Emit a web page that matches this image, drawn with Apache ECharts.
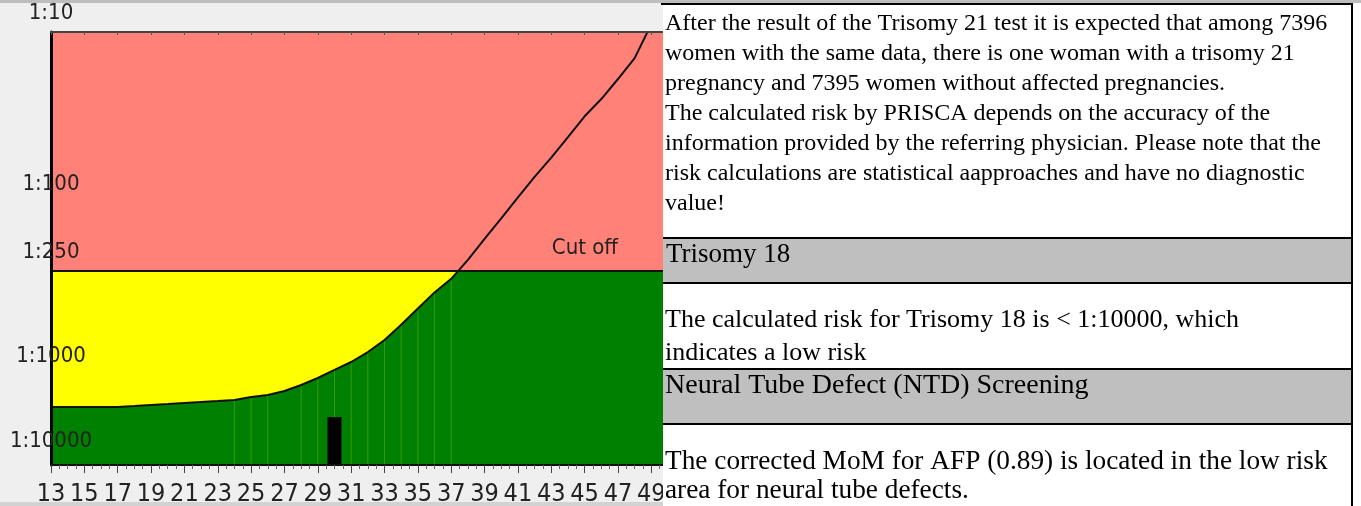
<!DOCTYPE html>
<html>
<head>
<meta charset="utf-8">
<script src="https://cdn.jsdelivr.net/npm/echarts@6/dist/echarts.min.js"></script>
<style>
  html, body { margin: 0; padding: 0; background: #efefef; }
  #riskChart { width: 1361px; height: 506px; }
</style>
</head>
<body>
<div id="riskChart"></div>
<script>
  const ages = [13, 14, 15, 16, 17, 18, 19, 20, 21, 22, 23, 24, 25, 26, 27, 28, 29, 30, 31,
    32, 33, 34, 35, 36, 37, 38, 39, 40, 41, 42, 43, 44, 45, 46, 47, 48, 49];
  const riskDenominators = [2360, 2360, 2360, 2360, 2360, 2300, 2240, 2180, 2120, 2065, 2010,
    1955, 1805, 1710, 1540, 1310, 1085, 935, 840, 735, 625, 510, 410, 330, 275, 213, 161, 122,
    92, 70, 54, 41, 31, 24.6, 18.8, 14.2, 9];
  const yTicks = [10, 100, 250, 1000, 10000];
  const xTickStart = 13;
  const xTickEnd = 50;
  const cutoffRisk = 250;
  const patientAge = [30];
  const patientMarker = [3100];
  // faint light stripes seen under the curve
  const stripeAges = [24, 25, 26, 28, 29, 30, 31, 32, 33, 34, 35, 36, 37];

  // log scale up to 1:1000, then squeezed to half a decade per decade
  const POS_MAX = 3.525;
  function pos(r) {
    const l = Math.log10(r);
    return l <= 3 ? l : 3 + (l - 3) / 2;
  }
  function h(r) {
    return POS_MAX - pos(r);
  }
  function riskAt(age) {
    return riskDenominators[ages.indexOf(age)];
  }
  // first age whose risk is already above the cut off; yellow band stops there
  const yellowEnd = ages.find((a, i) => riskDenominators[i] < cutoffRisk);

  const narrow = "'Liberation Sans Narrow', 'DejaVu Sans Condensed', 'Liberation Sans', sans-serif";
  const serif = "'Liberation Serif', 'DejaVu Serif', serif";

  const myChart = echarts.init(document.getElementById('riskChart'));
  myChart.setOption({
    animation: false,
    backgroundColor: '#efefef',
    grid: {
      show: true,
      left: 51,
      top: 32,
      right: 693,
      bottom: 41,
      containLabel: false,
      outerBoundsMode: 'none',
      borderWidth: 0,
      backgroundColor: '#008000',
    },
    xAxis: [
      {
        type: 'value',
        min: xTickStart,
        max: xTickEnd,
        interval: 2,
        z: 10,
        axisLine: { lineStyle: { color: '#111', width: 2 } },
        axisTick: { length: 8, lineStyle: { color: '#444', width: 1 } },
        minorTick: { show: true, splitNumber: 4, length: 4, lineStyle: { color: '#666' } },
        splitLine: { show: false },
        axisLabel: {
          showMaxLabel: false,
          margin: 17,
          fontFamily: narrow,
          fontSize: 25,
          color: '#222',
        },
      },
      {
        //top border, also hosts the patient marker
        type: 'value',
        position: 'top',
        min: xTickStart,
        max: xTickEnd,
        interval: 2,
        z: 10,
        axisLine: { lineStyle: { color: '#444', width: 2 } },
        axisTick: { inside: true, length: 3, lineStyle: { color: '#555' } },
        splitLine: { show: false },
        axisLabel: { show: false },
      },
    ],
    yAxis: {
      type: 'value',
      min: 0,
      max: POS_MAX - 1,
      z: 10,
      splitLine: { show: false },
      axisTick: { show: false },
      axisLine: { show: true, lineStyle: { color: '#000', width: 3 } },
      axisLabel: {
        customValues: yTicks.map(h),
        formatter(value) {
          const t = yTicks.find((d) => Math.abs(h(d) - value) < 1e-6);
          return t ? '1:' + t : '';
        },
        align: 'center',
        verticalAlign: 'bottom',
        lineHeight: 38,
        margin: 0,
        fontFamily: narrow,
        fontSize: 22,
        color: '#222',
      },
    },
    series: [
      {
        //yellow below cut off, only where the curve is still under it
        type: 'line',
        z: 1,
        silent: true,
        symbol: 'none',
        lineStyle: { width: 0 },
        areaStyle: { color: '#ffff00', opacity: 1, origin: 'start' },
        data: [[ages[0], h(cutoffRisk)], [yellowEnd, h(cutoffRisk)]],
      },
      {
        //green under the risk curve
        type: 'line',
        z: 2,
        silent: true,
        symbol: 'none',
        lineStyle: { width: 0 },
        areaStyle: { color: '#008000', opacity: 1, origin: 'start' },
        data: ages.map((a, i) => [a, h(riskDenominators[i])]),
      },
      {
        type: 'bar',
        z: 3,
        silent: true,
        barWidth: 1,
        itemStyle: { color: 'rgba(150,210,0,0.35)' },
        data: stripeAges.map((a) => [a, h(riskAt(a))]),
      },
      {
        //pink above cut off
        type: 'line',
        z: 4,
        silent: true,
        symbol: 'none',
        lineStyle: { width: 0 },
        areaStyle: { color: '#ff8178', opacity: 1, origin: 'end' },
        data: [[xTickStart, h(cutoffRisk)], [xTickEnd, h(cutoffRisk)]],
      },
      {
        type: 'bar',
        xAxisIndex: 1,
        z: 5,
        silent: true,
        barWidth: 14,
        itemStyle: { color: '#000' },
        data: patientAge.map((a, i) => [a, h(patientMarker[i])]),
      },
      {
        type: 'line',
        z: 6,
        silent: true,
        symbol: 'none',
        lineStyle: { color: '#111', width: 2 },
        data: ages.map((a, i) => [a, h(riskDenominators[i])]),
        markLine: {
          silent: true,
          symbol: 'none',
          lineStyle: { color: '#111', width: 2, type: 'solid' },
          label: {
            formatter: 'Cut off',
            position: 'insideEndTop',
            distance: 12,
            padding: [0, 38, 0, 0],
            fontFamily: narrow,
            fontSize: 22,
            color: '#222',
          },
          data: [{ yAxis: h(cutoffRisk) }],
        },
      },
    ],
    graphic: [
      { type: 'rect', z: 100, shape: { x: 663, y: 0, width: 698, height: 506 }, style: { fill: '#fff' } },
      { type: 'rect', z: 101, shape: { x: 0, y: 0, width: 1361, height: 3 }, style: { fill: '#bdbdbd' } },
      { type: 'rect', z: 101, shape: { x: 0, y: 502, width: 663, height: 4 }, style: { fill: '#d2d2d2' } },
      { type: 'rect', z: 101, shape: { x: 663, y: 239, width: 689, height: 43 }, style: { fill: '#bfbfbf' } },
      { type: 'rect', z: 101, shape: { x: 663, y: 370, width: 689, height: 53 }, style: { fill: '#bfbfbf' } },
      { type: 'rect', z: 102, shape: { x: 661, y: 3, width: 692, height: 2 }, style: { fill: '#000' } },
      { type: 'rect', z: 102, shape: { x: 663, y: 237, width: 690, height: 2 }, style: { fill: '#000' } },
      { type: 'rect', z: 102, shape: { x: 663, y: 282, width: 690, height: 2 }, style: { fill: '#000' } },
      { type: 'rect', z: 102, shape: { x: 663, y: 368, width: 690, height: 2 }, style: { fill: '#000' } },
      { type: 'rect', z: 102, shape: { x: 663, y: 423, width: 690, height: 2 }, style: { fill: '#000' } },
      { type: 'rect', z: 102, shape: { x: 1351, y: 3, width: 2, height: 503 }, style: { fill: '#000' } },
      {
        type: 'text',
        z: 103,
        style: {
          x: 665,
          y: 9,
          text: [
            'After the result of the Trisomy 21 test it is expected that among 7396',
            'women with the same data, there is one woman with a trisomy 21',
            'pregnancy and 7395 women without affected pregnancies.',
            'The calculated risk by PRISCA depends on the accuracy of the',
            'information provided by the referring physician. Please note that the',
            'risk calculations are statistical aapproaches and have no diagnostic',
            'value!',
          ].join('\n'),
          font: '24px ' + serif,
          lineHeight: 30,
          verticalAlign: 'top',
          fill: '#000',
        },
      },
      {
        type: 'text',
        z: 103,
        style: { x: 666, y: 255, text: 'Trisomy 18', font: '27px ' + serif, verticalAlign: 'middle', fill: '#000' },
      },
      {
        type: 'text',
        z: 103,
        style: {
          x: 665,
          y: 304,
          text: 'The calculated risk for Trisomy 18 is < 1:10000, which\nindicates a low risk',
          font: '26px ' + serif,
          lineHeight: 33,
          verticalAlign: 'top',
          fill: '#000',
        },
      },
      {
        type: 'text',
        z: 103,
        style: { x: 665, y: 386, text: 'Neural Tube Defect (NTD) Screening', font: '28px ' + serif, verticalAlign: 'middle', fill: '#000' },
      },
      {
        type: 'text',
        z: 103,
        style: {
          x: 665,
          y: 447,
          text: 'The corrected MoM for AFP (0.89) is located in the low risk\narea for neural tube defects.',
          font: '27.3px ' + serif,
          lineHeight: 29,
          verticalAlign: 'top',
          fill: '#000',
        },
      },
    ],
  });
</script>
</body>
</html>
